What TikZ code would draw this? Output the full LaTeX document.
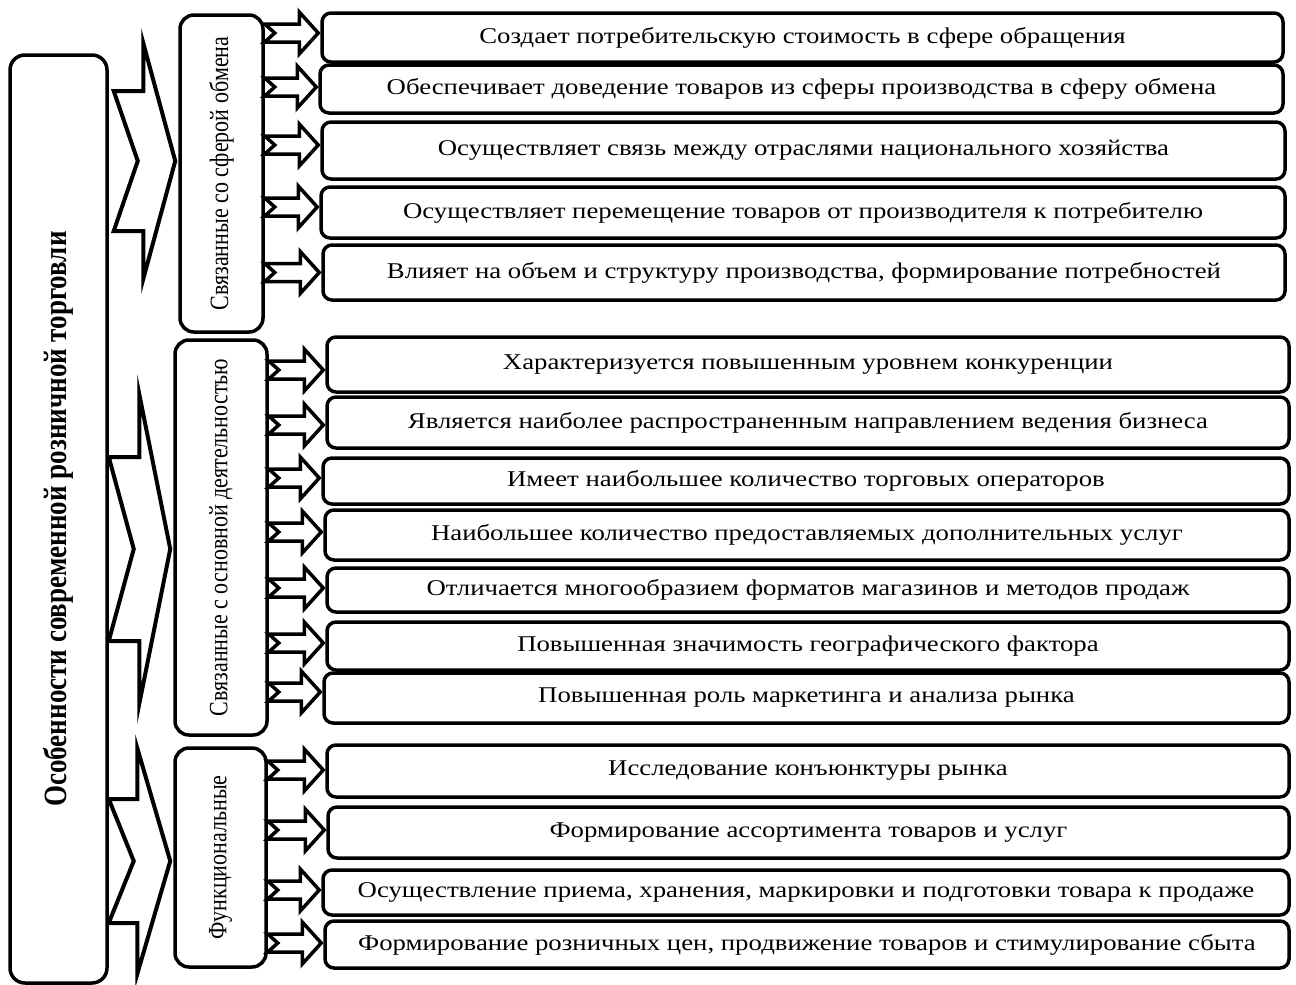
\documentclass[tikz,border=0pt]{standalone}
\usepackage{fontspec}
\setmainfont{Liberation Serif}
\usetikzlibrary{calc}
\tikzset{
  item/.style={draw, line width=3.5pt, rounded corners=9pt, inner sep=0pt, font=\fontsize{22.5}{26}\selectfont},
  grp/.style={draw, line width=3.5pt, rounded corners=14pt, inner sep=0pt, font=\fontsize{22}{26}\selectfont},
  mainbox/.style={draw, line width=3.5pt, rounded corners=15pt, inner sep=0pt, font=\fontsize{27}{30}\selectfont\bfseries},
  blockarrow/.style={draw, line width=3.5pt, line join=miter, miter limit=25},
  bigarrow/.style={draw, line width=4pt, line join=miter, miter limit=25}
}
\newcommand\wtxt[1]{\scalebox{1.19}[1]{#1}}
\newcommand\vtxt[1]{\rotatebox{90}{\scalebox{1}[1.2]{#1}}}
\newcommand\smallarrow[3]{%
  \draw[blockarrow] let \p1=($(#1.east |- #2.west)+(0,#3)$), \p2=($(#2.west)+(-2,#3)$) in
  (\x1,\y1+9pt) -- (\x2-19pt,\y1+9pt) -- (\x2-19pt,\y1+21pt) -- (\x2,\y1)
  -- (\x2-19pt,\y1-21pt) -- (\x2-19pt,\y1-9pt) -- (\x1,\y1-9pt) -- (\x1+10pt,\y1) -- cycle;}
\newcommand\chevron[8]{%
  \draw[bigarrow] let \p1=(#1.east |- #3), \p2=($(#2.west |- #3)+(-3,0)$) in
  (\x1+#4pt,\y1+#6pt) -- (\x2-#8pt,\y1+#6pt) -- (\x2-#8pt,\y1+#7pt) -- (\x2,\y1)
  -- (\x2-#8pt,\y1-#7pt) -- (\x2-#8pt,\y1-#6pt) -- (\x1+#4pt,\y1-#6pt) -- (\x1+#4pt+#5pt,\y1) -- cycle;}
\begin{document}
\begin{tikzpicture}[x=1pt,y=-1pt]
\useasboundingbox (0,0) rectangle (1296,985);
% main box
\node[mainbox, minimum width=97pt, minimum height=928pt] (main) at (58.5,519) {\vtxt{Особенности современной розничной торговли}};
% groups
\node[grp, minimum width=83pt, minimum height=317pt] (g1) at (221.5,173.5) {\vtxt{Связанные со сферой обмена}};
\node[grp, minimum width=92pt, minimum height=395pt] (g2) at (221,537.5) {\vtxt{Связанные с основной деятельностью}};
\node[grp, minimum width=91pt, minimum height=219pt] (g3) at (220.5,857.5) {\vtxt{Функциональные}};
% items
\node[item, minimum width=961pt, minimum height=49pt] (b1) at (802.5,37.5) {\wtxt{Создает потребительскую стоимость в сфере обращения}};
\node[item, minimum width=963pt, minimum height=48pt] (b2) at (801.5,89) {\wtxt{Обеспечивает доведение товаров из сферы производства в сферу обмена}};
\node[item, minimum width=963pt, minimum height=57pt] (b3) at (803.5,150.5) {\wtxt{Осуществляет связь между отраслями национального хозяйства}};
\node[item, minimum width=964pt, minimum height=51pt] (b4) at (803,212.5) {\wtxt{Осуществляет перемещение товаров от производителя к потребителю}};
\node[item, minimum width=962pt, minimum height=55pt] (b5) at (804,272.5) {\wtxt{Влияет на объем и структуру производства, формирование потребностей}};
\node[item, minimum width=962pt, minimum height=55pt] (b6) at (808,364.5) {\wtxt{Характеризуется повышенным уровнем конкуренции}};
\node[item, minimum width=962pt, minimum height=51pt] (b7) at (808,422.5) {\wtxt{Является наиболее распространенным направлением ведения бизнеса}};
\node[item, minimum width=966pt, minimum height=46pt] (b8) at (806,481) {\wtxt{Имеет наибольшее количество торговых операторов}};
\node[item, minimum width=964pt, minimum height=50pt] (b9) at (807,535) {\wtxt{Наибольшее количество предоставляемых дополнительных услуг}};
\node[item, minimum width=962pt, minimum height=44pt] (b10) at (808,590) {\wtxt{Отличается многообразием форматов магазинов и методов продаж}};
\node[item, minimum width=962pt, minimum height=48pt] (b11) at (808,646) {\wtxt{Повышенная значимость географического фактора}};
\node[item, minimum width=965pt, minimum height=50pt] (b12) at (806.5,698) {\wtxt{Повышенная роль маркетинга и анализа рынка}};
\node[item, minimum width=962pt, minimum height=52pt] (b13) at (808,771) {\wtxt{Исследование конъюнктуры рынка}};
\node[item, minimum width=961pt, minimum height=51pt] (b14) at (808.5,832.5) {\wtxt{Формирование ассортимента товаров и услуг}};
\node[item, minimum width=966pt, minimum height=45pt] (b15) at (806,892.5) {\wtxt{Осуществление приема, хранения, маркировки и подготовки товара к продаже}};
\node[item, minimum width=964pt, minimum height=47pt] (b16) at (807,944.5) {\wtxt{Формирование розничных цен, продвижение товаров и стимулирование сбыта}};
% chevrons
\coordinate (c1) at (0,161);
\coordinate (c2) at (0,549);
\coordinate (c3) at (0,861);
\chevron{main}{g1}{c1}{5}{24}{70}{118}{32}
\chevron{main}{g2}{c2}{0}{25}{92}{155}{31}
\chevron{main}{g3}{c3}{0}{25}{62}{113}{33}
% small arrows
\smallarrow{g1}{b1}{-4.5}
\smallarrow{g1}{b2}{-2}
\smallarrow{g1}{b3}{-5.5}
\smallarrow{g1}{b4}{-5.5}
\smallarrow{g1}{b5}{0}
\smallarrow{g2}{b6}{5.5}
\smallarrow{g2}{b7}{2.5}
\smallarrow{g2}{b8}{-3}
\smallarrow{g2}{b9}{-3}
\smallarrow{g2}{b10}{-2}
\smallarrow{g2}{b11}{-3}
\smallarrow{g2}{b12}{-6}
\smallarrow{g3}{b13}{-1}
\smallarrow{g3}{b14}{-2.5}
\smallarrow{g3}{b15}{-2.5}
\smallarrow{g3}{b16}{-1.5}
\end{tikzpicture}
\end{document}
